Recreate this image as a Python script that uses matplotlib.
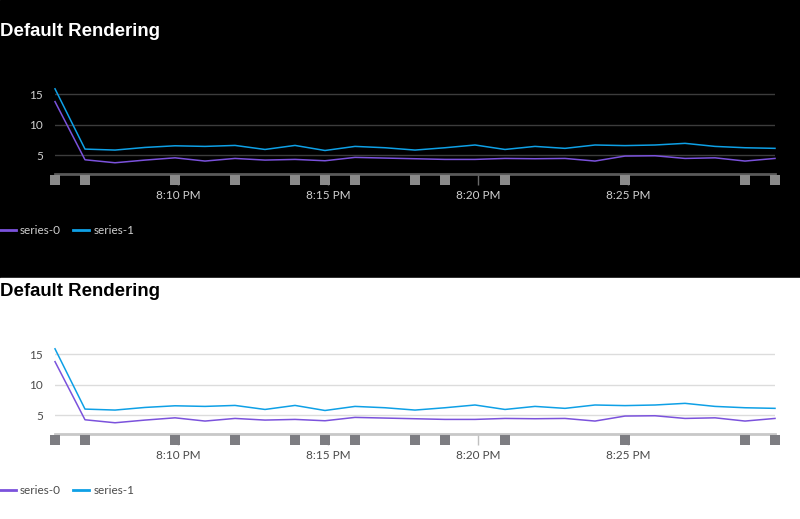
import matplotlib
matplotlib.use("Agg")
import matplotlib.pyplot as plt
import matplotlib.dates as mdates
import pandas as pd

# ── Data ────────────────────────────────────────────────────────────
times = pd.date_range("2024-01-01 20:05:54", periods=25, freq="1min")
series_0 = [13.8, 4.28, 3.79, 4.23, 4.6, 4.07, 4.5, 4.23, 4.34, 4.12, 4.67, 4.56,
            4.45, 4.34, 4.34, 4.5, 4.45, 4.5, 4.07, 4.89, 4.94, 4.5, 4.6, 4.07, 4.5]
series_1 = [15.9, 6.03, 5.87, 6.3, 6.57, 6.47, 6.63, 5.97, 6.63, 5.8, 6.47, 6.25,
            5.87, 6.25, 6.7, 5.97, 6.47, 6.15, 6.7, 6.6, 6.7, 6.97, 6.47, 6.25, 6.15]
annotated = [0, 1, 4, 6, 8, 9, 10, 12, 13, 15, 19, 23, 24]
y_ticks = [5, 10, 15]

W, H = 800, 519
C0 = "#7b52dc"
C1 = "#0ea0e6"

THEMES = [
    dict(bg="#000000", title="#ffffff", text="#d0d0d0", grid="#3c3c3c",
         axis="#5a5a5a", square="#8a8a8a", tick="#6a6a6a", offset=0),
    dict(bg="#ffffff", title="#000000", text="#4a4a4a", grid="#dcdcdc",
         axis="#c8c8c8", square="#7d7d82", tick="#c0c0c0", offset=260),
]

plt.rcParams["font.family"] = ["Lato", "DejaVu Sans"]

fig = plt.figure(figsize=(W / 100, H / 100), dpi=100)

# panel backgrounds
fig.patches.append(plt.Rectangle((0, 1 - 278 / H), 1, 278 / H, transform=fig.transFigure,
                                 color="#000000", zorder=-10))
fig.patches.append(plt.Rectangle((0, 0), 1, 1 - 278 / H, transform=fig.transFigure,
                                 color="#ffffff", zorder=-10))


def fy(px):
    return 1 - px / H


for th in THEMES:
    off = th["offset"]
    top_px, bot_px = 88.2 + off, 173.7 + off
    ax = fig.add_axes([55 / W, fy(bot_px), 720 / W, (bot_px - top_px) / H])
    ax.set_facecolor("none")

    for y in y_ticks:
        ax.axhline(y, color=th["grid"], linewidth=1, zorder=1)

    l0, = ax.plot(times, series_0, color=C0, linewidth=1.1, label="series-0",
                  zorder=3, clip_on=False)
    l1, = ax.plot(times, series_1, color=C1, linewidth=1.1, label="series-1",
                  zorder=3, clip_on=False)

    ax.set_xlim(times[0], times[-1])
    ax.set_ylim(2, 16)
    ax.set_yticks(y_ticks)

    for s in ["top", "right", "left"]:
        ax.spines[s].set_visible(False)
    ax.spines["bottom"].set_color(th["axis"])
    ax.spines["bottom"].set_linewidth(2)

    ax.xaxis.set_major_locator(mdates.MinuteLocator(byminute=range(0, 60, 5)))
    ax.xaxis.set_major_formatter(mdates.DateFormatter("%-I:%M %p"))
    ax.tick_params(axis="x", colors=th["text"], labelsize=8.5, length=8, width=1,
                   color=th["tick"], pad=4)
    ax.tick_params(axis="y", colors=th["text"], labelsize=8.5, length=0, pad=8.5)

    # annotation squares below the axis
    ax.plot([times[i] for i in annotated], [-0.068] * len(annotated), "s",
            transform=ax.get_xaxis_transform(), color=th["square"], markersize=6.8,
            markeredgewidth=0, clip_on=False, zorder=5)

    fig.text(0, fy(36.5 + off), "Default Rendering", fontsize=13.4, fontweight="bold",
             color=th["title"], family="Liberation Sans", va="baseline", ha="left")

    leg = fig.legend(handles=[l0, l1], loc="center left",
                     bbox_to_anchor=(0, fy(230.5 + off)), ncol=2, frameon=False,
                     fontsize=8.5, handlelength=1.35, handletextpad=0.35,
                     columnspacing=1.05, borderpad=0, borderaxespad=0)
    for t in leg.get_texts():
        t.set_color(th["text"])
    for ln in leg.get_lines():
        ln.set_linewidth(2)

fig.savefig("out.png", dpi=100)
